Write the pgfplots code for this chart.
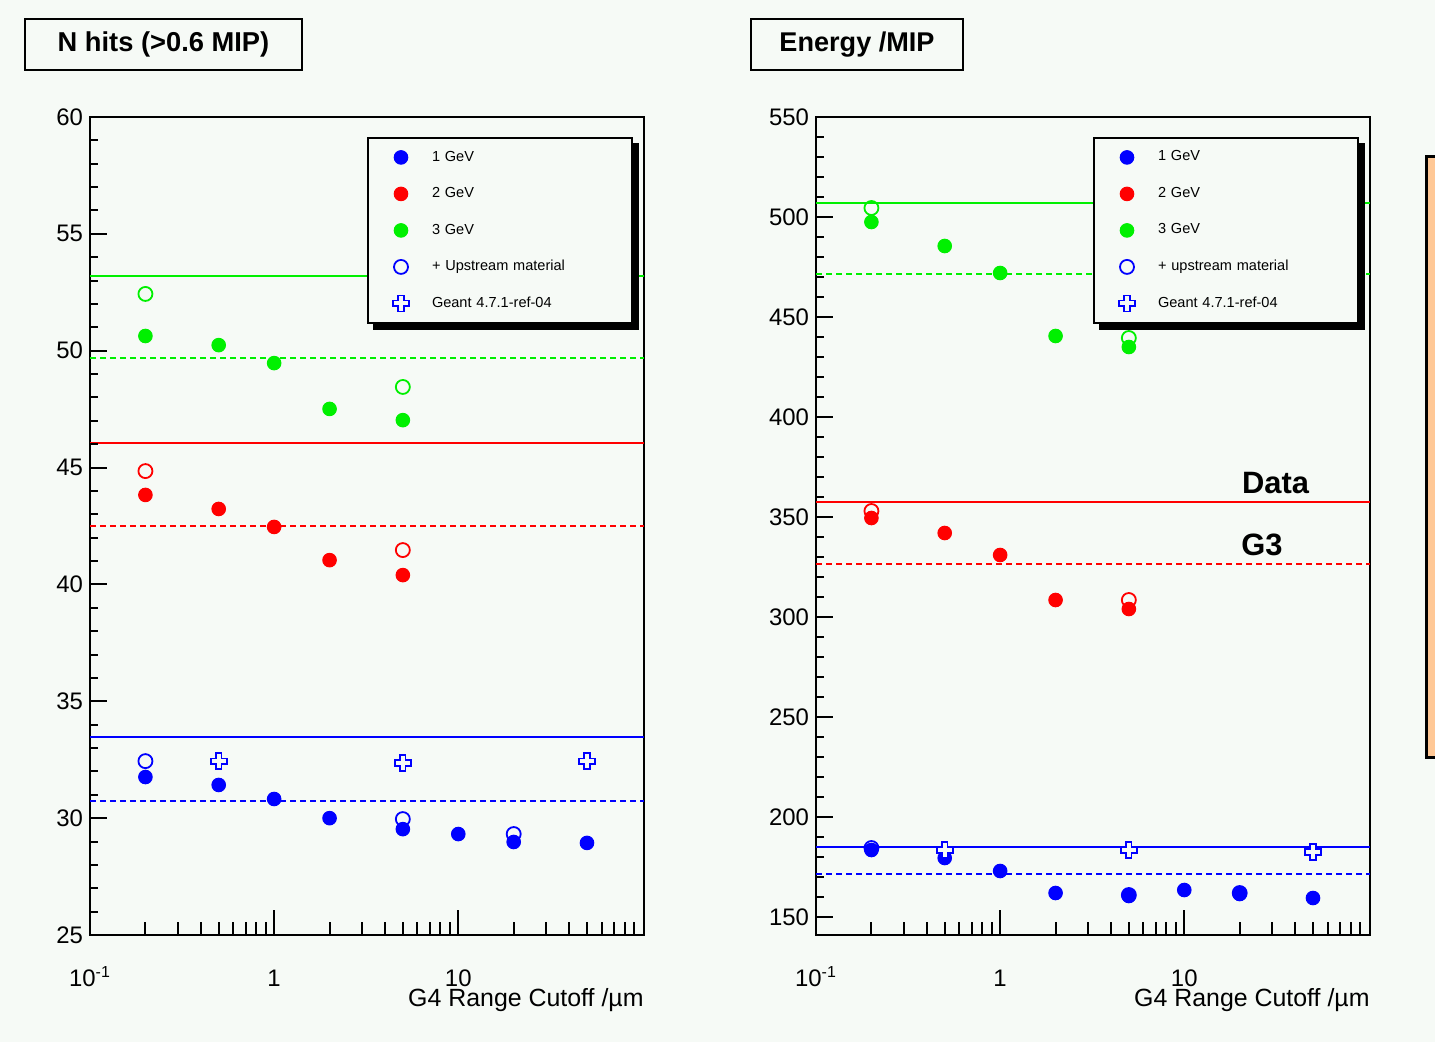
\documentclass[border=0pt]{standalone}
\usepackage{fontspec}
\setmainfont{Liberation Sans}
\usepackage{pgfplots}
\pgfplotsset{compat=1.18}
\definecolor{bgc}{RGB}{246,250,246}
\definecolor{obox}{RGB}{255,200,150}
\definecolor{rblue}{RGB}{0,0,255}
\definecolor{rred}{RGB}{255,0,0}
\definecolor{rgreen}{RGB}{0,240,0}

\pgfdeclareplotmark{ocross}{%
  \pgfpathmoveto{\pgfpoint{-0.35\pgfplotmarksize}{\pgfplotmarksize}}%
  \pgfpathlineto{\pgfpoint{0.35\pgfplotmarksize}{\pgfplotmarksize}}%
  \pgfpathlineto{\pgfpoint{0.35\pgfplotmarksize}{0.35\pgfplotmarksize}}%
  \pgfpathlineto{\pgfpoint{\pgfplotmarksize}{0.35\pgfplotmarksize}}%
  \pgfpathlineto{\pgfpoint{\pgfplotmarksize}{-0.35\pgfplotmarksize}}%
  \pgfpathlineto{\pgfpoint{0.35\pgfplotmarksize}{-0.35\pgfplotmarksize}}%
  \pgfpathlineto{\pgfpoint{0.35\pgfplotmarksize}{-\pgfplotmarksize}}%
  \pgfpathlineto{\pgfpoint{-0.35\pgfplotmarksize}{-\pgfplotmarksize}}%
  \pgfpathlineto{\pgfpoint{-0.35\pgfplotmarksize}{-0.35\pgfplotmarksize}}%
  \pgfpathlineto{\pgfpoint{-\pgfplotmarksize}{-0.35\pgfplotmarksize}}%
  \pgfpathlineto{\pgfpoint{-\pgfplotmarksize}{0.35\pgfplotmarksize}}%
  \pgfpathlineto{\pgfpoint{-0.35\pgfplotmarksize}{0.35\pgfplotmarksize}}%
  \pgfpathclose
  \pgfusepathqfillstroke
}

\tikzset{
  fb/.style={only marks, mark=*, mark size=3.4bp, rblue, mark options={solid, fill=rblue, draw=rblue, line width=0.5bp}},
  fr/.style={only marks, mark=*, mark size=3.4bp, rred, mark options={solid, fill=rred, draw=rred, line width=0.5bp}},
  fg/.style={only marks, mark=*, mark size=3.4bp, rgreen, mark options={solid, fill=rgreen, draw=rgreen, line width=0.5bp}},
  ob/.style={only marks, mark=o, mark size=3.5bp, rblue, mark options={solid, draw=rblue, line width=0.9bp}},
  orr/.style={only marks, mark=o, mark size=3.5bp, rred, mark options={solid, draw=rred, line width=0.9bp}},
  og/.style={only marks, mark=o, mark size=3.5bp, rgreen, mark options={solid, draw=rgreen, line width=0.9bp}},
  cb/.style={only marks, mark=ocross, mark size=4bp, rblue, mark options={solid, draw=rblue, fill=bgc, line width=0.8bp}},
  hl/.style={line width=1bp},
  hd/.style={line width=1bp, dash pattern=on 3bp off 2bp},
}

\pgfplotsset{legend image code/.code={\path[draw=none,fill=none] (0bp,-1bp) rectangle (32bp,1bp); \draw[#1] plot coordinates {(16.5bp,0bp)};}}

\begin{document}
\begin{tikzpicture}
\useasboundingbox (0,0) rectangle (717.5bp,-521bp);
\fill[bgc] (0,0) rectangle (717.5bp,-521bp);

% ---------------- left panel ----------------
\begin{semilogxaxis}[at={(45bp,-467.5bp)}, anchor=south west,
    scale only axis, width=277bp, height=409bp,
    xmin=0.1, xmax=102, ymin=25, ymax=60,
    ytick={25,30,35,40,45,50,55,60}, yticklabels={25,30,35,40,45,50,55,60},
    xtick={0.1,1,10}, xticklabels={10\textsuperscript{-1},1,10},
    major tick length=0pt, minor tick length=0pt,
    axis line style={line width=1bp, black},
    clip=false,
    tick label style={font=\fontsize{12}{14}\selectfont},
    xticklabel style={anchor=base, yshift=-25.5bp},
    xlabel={G4 Range Cutoff /µm},
    xlabel style={at={(axis description cs:1,0)}, anchor=base east, yshift=-35.5bp, inner sep=0pt, font=\fontsize{12.5}{14}\selectfont},
    legend cell align=left,
    legend style={at={(axis description cs:0.5,0.9756)}, anchor=north west, name=legL,
      draw=black, line width=1bp, fill=bgc, inner xsep=0pt, inner ysep=0.6bp, row sep=0pt,
      nodes={font=\fontsize{7.3}{8}\selectfont, text width=100bp, minimum height=18.25bp, inner sep=0pt, align=left}}]
\addlegendimage{fb}\addlegendentry{1 GeV}
\addlegendimage{fr}\addlegendentry{2 GeV}
\addlegendimage{fg}\addlegendentry{3 GeV}
\addlegendimage{ob}\addlegendentry{+ Upstream material}
\addlegendimage{cb}\addlegendentry{Geant 4.7.1-ref-04}
% reference lines (data solid, G3 dashed)
\addplot[hl, rgreen, forget plot] coordinates {(0.1,53.2) (102,53.2)};
\addplot[hd, rgreen, forget plot] coordinates {(0.1,49.69) (102,49.69)};
\addplot[hl, rred, forget plot] coordinates {(0.1,46.05) (102,46.05)};
\addplot[hd, rred, forget plot] coordinates {(0.1,42.5) (102,42.5)};
\addplot[hl, rblue, forget plot] coordinates {(0.1,33.47) (102,33.47)};
\addplot[hd, rblue, forget plot] coordinates {(0.1,30.73) (102,30.73)};
% G4 points
\addplot[fb, forget plot] coordinates {(0.2,31.76) (0.5,31.42) (1,30.82) (2,30.0) (5,29.53) (10,29.32) (20,28.98) (50,28.94)};
\addplot[fr, forget plot] coordinates {(0.2,43.83) (0.5,43.23) (1,42.46) (2,41.04) (5,40.40)};
\addplot[fg, forget plot] coordinates {(0.2,50.63) (0.5,50.24) (1,49.47) (2,47.51) (5,47.03)};
\addplot[ob, forget plot] coordinates {(0.2,32.44) (5,29.96) (20,29.32)};
\addplot[orr, forget plot] coordinates {(0.2,44.85) (5,41.47)};
\addplot[og, forget plot] coordinates {(0.2,52.43) (5,48.45)};
\addplot[cb, forget plot] coordinates {(0.5,32.44) (5,32.36) (50,32.44)};
% ticks
\pgfplotsinvokeforeach{0.2,0.3,0.4,0.5,0.6,0.7,0.8,0.9,2,3,4,5,6,7,8,9,20,30,40,50,60,70,80,90}{\draw[line width=1bp] (axis cs:#1,25) -- ++(0bp,6.5bp);}
\pgfplotsinvokeforeach{1,10}{\draw[line width=1bp] (axis cs:#1,25) -- ++(0bp,12.5bp);}
\pgfplotsinvokeforeach{26,27,28,29,31,32,33,34,36,37,38,39,41,42,43,44,46,47,48,49,51,52,53,54,56,57,58,59}{\draw[line width=1bp] (axis cs:0.1,#1) -- ++(4bp,0bp);}
\pgfplotsinvokeforeach{30,35,40,45,50,55}{\draw[line width=1bp] (axis cs:0.1,#1) -- ++(8.5bp,0bp);}
\end{semilogxaxis}
\fill[black] ([yshift=-3bp]legL.north east) rectangle ([shift={(3bp,-3bp)}]legL.south east);
\fill[black] ([xshift=3bp]legL.south west) rectangle ([shift={(3bp,-3bp)}]legL.south east);

% ---------------- right panel ----------------
\begin{semilogxaxis}[at={(408bp,-467.5bp)}, anchor=south west,
    scale only axis, width=277bp, height=409bp,
    xmin=0.1, xmax=102, ymin=141, ymax=550,
    ytick={150,200,250,300,350,400,450,500,550}, yticklabels={150,200,250,300,350,400,450,500,550},
    xtick={0.1,1,10}, xticklabels={10\textsuperscript{-1},1,10},
    major tick length=0pt, minor tick length=0pt,
    axis line style={line width=1bp, black},
    clip=false,
    tick label style={font=\fontsize{12}{14}\selectfont},
    xticklabel style={anchor=base, yshift=-25.5bp},
    xlabel={G4 Range Cutoff /µm},
    xlabel style={at={(axis description cs:1,0)}, anchor=base east, yshift=-35.5bp, inner sep=0pt, font=\fontsize{12.5}{14}\selectfont},
    legend cell align=left,
    legend style={at={(axis description cs:0.5,0.9756)}, anchor=north west, name=legR,
      draw=black, line width=1bp, fill=bgc, inner xsep=0pt, inner ysep=0.6bp, row sep=0pt,
      nodes={font=\fontsize{7.3}{8}\selectfont, text width=100bp, minimum height=18.25bp, inner sep=0pt, align=left}}]
\addlegendimage{fb}\addlegendentry{1 GeV}
\addlegendimage{fr}\addlegendentry{2 GeV}
\addlegendimage{fg}\addlegendentry{3 GeV}
\addlegendimage{ob}\addlegendentry{+ upstream material}
\addlegendimage{cb}\addlegendentry{Geant 4.7.1-ref-04}
\addplot[hl, rgreen, forget plot] coordinates {(0.1,507) (102,507)};
\addplot[hd, rgreen, forget plot] coordinates {(0.1,471.5) (102,471.5)};
\addplot[hl, rred, forget plot] coordinates {(0.1,357.5) (102,357.5)};
\addplot[hd, rred, forget plot] coordinates {(0.1,326.5) (102,326.5)};
\addplot[hl, rblue, forget plot] coordinates {(0.1,185) (102,185)};
\addplot[hd, rblue, forget plot] coordinates {(0.1,171.5) (102,171.5)};
\addplot[ob, forget plot] coordinates {(0.2,184.5) (5,161) (20,162)};
\addplot[fb, forget plot] coordinates {(0.2,183.5) (0.5,179.5) (1,173) (2,162) (5,160.5) (10,163.5) (20,161.5) (50,159.5)};
\addplot[fr, forget plot] coordinates {(0.2,349.5) (0.5,342) (1,331) (2,308.5) (5,304)};
\addplot[fg, forget plot] coordinates {(0.2,497.5) (0.5,485.5) (1,472) (2,440.5) (5,435)};
\addplot[orr, forget plot] coordinates {(0.2,353) (5,308.5)};
\addplot[og, forget plot] coordinates {(0.2,504.5) (5,439.5)};
\addplot[cb, forget plot] coordinates {(0.5,183.5) (5,183.5) (50,182.5)};
\pgfplotsinvokeforeach{0.2,0.3,0.4,0.5,0.6,0.7,0.8,0.9,2,3,4,5,6,7,8,9,20,30,40,50,60,70,80,90}{\draw[line width=1bp] (axis cs:#1,141) -- ++(0bp,6.5bp);}
\pgfplotsinvokeforeach{1,10}{\draw[line width=1bp] (axis cs:#1,141) -- ++(0bp,12.5bp);}
\pgfplotsinvokeforeach{160,170,180,190,210,220,230,240,260,270,280,290,310,320,330,340,360,370,380,390,410,420,430,440,460,470,480,490,510,520,530,540}{\draw[line width=1bp] (axis cs:0.1,#1) -- ++(4bp,0bp);}
\pgfplotsinvokeforeach{150,200,250,300,350,400,450,500}{\draw[line width=1bp] (axis cs:0.1,#1) -- ++(8.5bp,0bp);}
\end{semilogxaxis}
\fill[black] ([yshift=-3bp]legR.north east) rectangle ([shift={(3bp,-3bp)}]legR.south east);
\fill[black] ([xshift=3bp]legR.south west) rectangle ([shift={(3bp,-3bp)}]legR.south east);

% titles and annotations
\node[draw, line width=1bp, fill=bgc, minimum width=138.5bp, minimum height=25.5bp, anchor=north west, inner sep=0pt,
  font=\bfseries\fontsize{13.7}{15}\selectfont] at (12bp,-9bp) {N hits (>0.6 MIP)};
\node[draw, line width=1bp, fill=bgc, minimum width=106bp, minimum height=25.5bp, anchor=north west, inner sep=0pt,
  font=\bfseries\fontsize{13.6}{15}\selectfont] at (375bp,-9bp) {Energy /MIP};
\node[anchor=base, inner sep=0pt, font=\bfseries\fontsize{15.5}{17}\selectfont] at (637.75bp,-246.5bp) {Data};
\node[anchor=base, inner sep=0pt, font=\bfseries\fontsize{15.5}{17}\selectfont] at (631bp,-277.5bp) {G3};
\draw[line width=1.5bp, fill=obox] (713.3bp,-78bp) rectangle (730bp,-378.5bp);
\end{tikzpicture}
\end{document}
